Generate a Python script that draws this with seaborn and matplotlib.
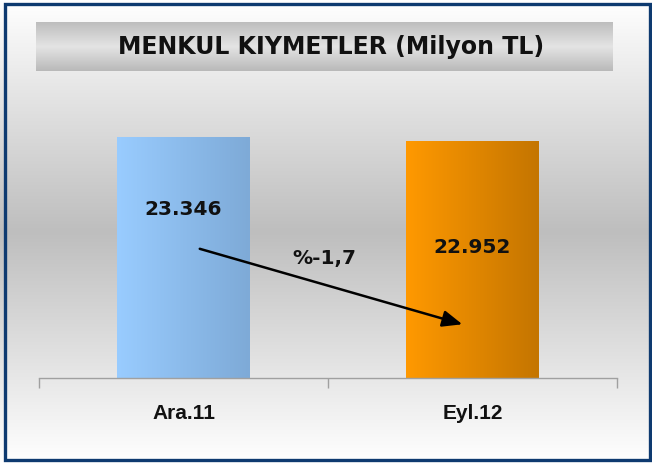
import numpy as np
import pandas as pd
import matplotlib
import matplotlib.pyplot as plt
import seaborn as sns
from matplotlib.colors import LinearSegmentedColormap
from matplotlib.patches import Rectangle
matplotlib.use('Agg')

# data
periods = ['Ara.11', 'Eyl.12']
values = [23346, 22952]
value_labels = ['23.346', '22.952']
change_label = '%-1,7'
title = 'MENKUL KIYMETLER (Milyon TL)'

sns.set_style('white')
plt.rcParams['font.family'] = ['DejaVu Sans']

W, H = 652, 463
fig = plt.figure(figsize=(W / 100, H / 100), dpi=100)

# background gradient, white -> gray -> white
bg = fig.add_axes([0, 0, 1, 1], zorder=-10)
bg_cmap = LinearSegmentedColormap.from_list('bg', [(0, '#ffffff'), (0.5, '#bebebe'), (1, '#ffffff')])
bg.imshow(np.linspace(0, 1, 256).reshape(-1, 1), cmap=bg_cmap, aspect='auto', extent=[0, 1, 0, 1])
bg.axis('off')

# title box
tb = fig.add_axes([36 / W, 1 - 71 / H, 577 / W, 49 / H], zorder=-5)
tb_cmap = LinearSegmentedColormap.from_list('tb', [(0, '#bdbdbd'), (0.5, '#e4e4e4'), (1, '#b9b9b9')])
tb.imshow(np.linspace(0, 1, 256).reshape(-1, 1), cmap=tb_cmap, aspect='auto', extent=[0, 1, 0, 1])
tb.axis('off')
fig.text(331 / W, 1 - 47 / H, title, ha='center', va='center', fontsize=17, fontweight='bold', color='#111111')

# frame
fig.patches.append(Rectangle((5 / W, 3 / H), 645 / W, 456 / H, transform=fig.transFigure,
                             fill=False, edgecolor='#0e3a70', linewidth=2.4, zorder=20))

# main chart
ax = fig.add_axes([39 / W, 1 - 378 / H, 578 / W, 278 / H])
ax.set_facecolor('none')
df = pd.DataFrame({'period': periods, 'value': values})
sns.barplot(data=df, x='period', y='value', hue='period', legend=False, width=0.457,
            palette=['#99ccff', '#ff9900'], ax=ax, saturation=1)

# horizontal gradient fills on the bars
grads = [['#99ccff', '#7eaad7'], ['#ff9900', '#c47500']]
for patch, cols in zip(ax.patches, grads):
    patch.set_edgecolor('none')
    x0, y0 = patch.get_x(), patch.get_y()
    w, h = patch.get_width(), patch.get_height()
    cm = LinearSegmentedColormap.from_list('g', cols)
    im = ax.imshow(np.linspace(0, 1, 256).reshape(1, -1), cmap=cm, aspect='auto',
                   extent=[x0, x0 + w, y0, y0 + h], zorder=patch.get_zorder() + 0.1)
    im.set_clip_path(patch)

ax.set_xlim(-0.5, 1.5)
ax.set_ylim(0, 26930)

# value labels
label_y = [0.70, 0.55]
for i, (v, lab) in enumerate(zip(values, value_labels)):
    ax.text(i, v * label_y[i], lab, ha='center', va='center', fontsize=14.5,
            fontweight='bold', color='#111111', zorder=5)

# change arrow
ax.annotate('', xy=(0.974, 5130), xytext=(0.047, 12590),
            arrowprops=dict(arrowstyle='-|>,head_length=1.2,head_width=0.5', color='black', lw=1.8),
            zorder=6)
ax.text(0.488, 11620, change_label, ha='center', va='center', fontsize=14.5,
        fontweight='bold', color='#111111', zorder=6)

# axes styling
for s in ['left', 'top', 'right']:
    ax.spines[s].set_visible(False)
ax.spines['bottom'].set_color('#a0a0a0')
ax.spines['bottom'].set_linewidth(1)
ax.set_yticks([])
ax.set_xlabel('')
ax.set_ylabel('')
ax.set_xticks([0, 1])
ax.set_xticklabels(periods, fontfamily='Liberation Sans', fontweight='bold', fontsize=15, color='#111111')
ax.set_xticks([-0.5, 0.5, 1.5], minor=True)
ax.tick_params(axis='x', which='major', bottom=True, length=0, pad=19)
ax.tick_params(axis='x', which='minor', bottom=True, length=7, color='#a0a0a0', width=1, direction='out')

fig.savefig('out.png', dpi=100)
